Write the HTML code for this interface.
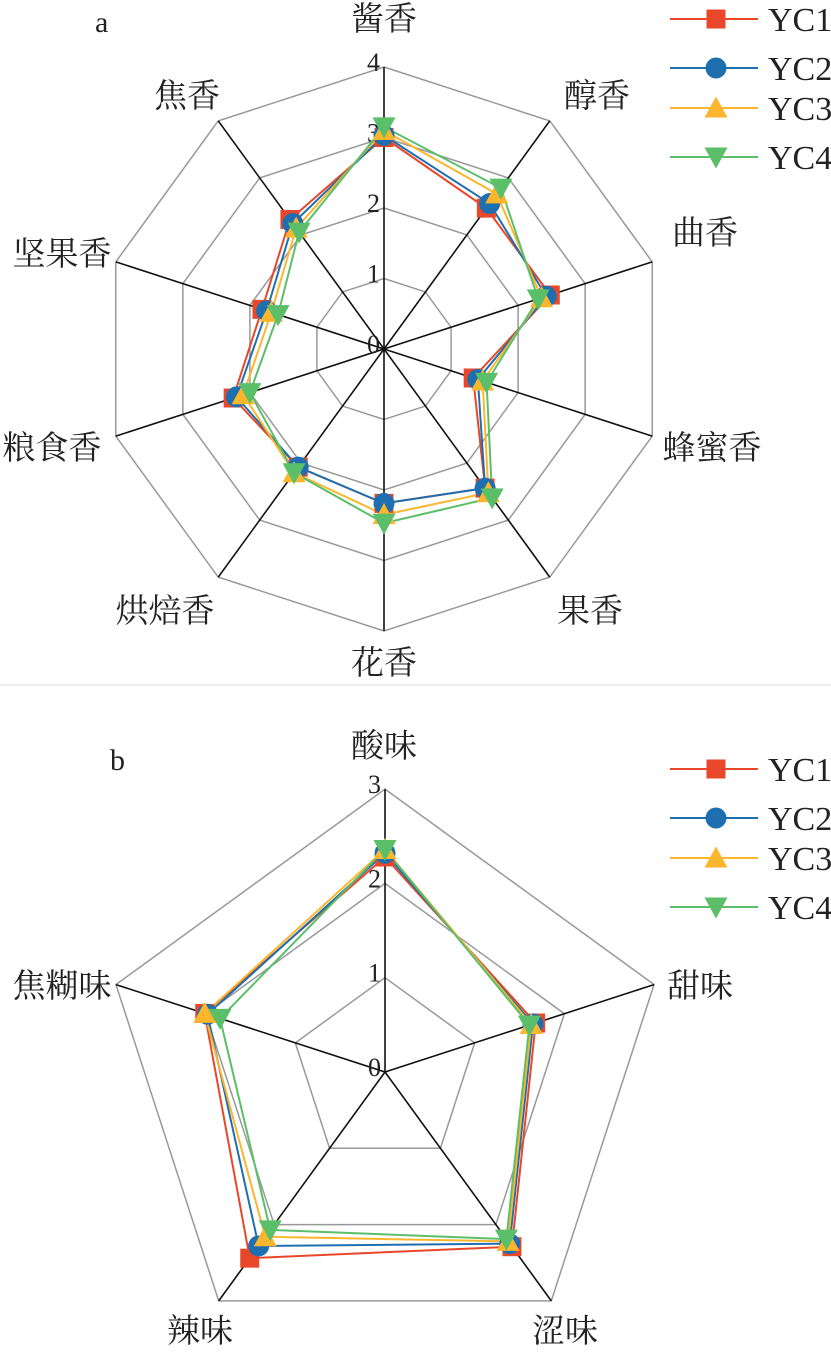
<!DOCTYPE html>
<html><head><meta charset="utf-8"><style>
html,body{margin:0;padding:0;background:#fff;}
svg{display:block;}
text{font-family:"Liberation Serif","Noto Serif CJK SC",serif;fill:#222;}
</style></head><body>
<svg id="s" width="831" height="1357" viewBox="0 0 831 1357" xmlns="http://www.w3.org/2000/svg">
<line x1="0" y1="685" x2="831" y2="685" stroke="#ddd" stroke-width="1"/>
<text x="95" y="32" font-size="30">a</text>
<text x="110" y="770" font-size="30">b</text>
</svg>
<script>
var s=document.getElementById('s'),NS='http://www.w3.org/2000/svg';
function el(t,a,txt){var e=document.createElementNS(NS,t);for(var k in a)e.setAttribute(k,a[k]);if(txt!=null)e.textContent=txt;s.appendChild(e);return e;}
var cols=['#E8472A','#1F6FB0','#FBB62D','#5BBF6A'];
function marker(i,x,y,sz){
 var h=sz/2;
 if(i==0)el('rect',{x:x-h,y:y-h,width:sz,height:sz,fill:cols[0]});
 else if(i==1)el('circle',{cx:x,cy:y,r:h+1,fill:cols[1]});
 else if(i==2)el('polygon',{points:(x)+','+(y-h-2)+' '+(x+h+2)+','+(y+h)+' '+(x-h-2)+','+(y+h),fill:cols[2]});
 else el('polygon',{points:(x-h-2)+','+(y-h)+' '+(x+h+2)+','+(y-h)+' '+x+','+(y+h+2),fill:cols[3]});
}
function radar(cx,cy,unit,max,n,data,labels,lpos,ticks){
 function pt(k,v){var a=2*Math.PI*k/n;return [cx+Math.sin(a)*v*unit,cy-Math.cos(a)*v*unit];}
 for(var g=1;g<=max;g++){var p=[];for(var k=0;k<n;k++)p.push(pt(k,g).join(','));
  el('polygon',{points:p.join(' '),fill:'none',stroke:'#999','stroke-width':1.5});}
 for(var k=0;k<n;k++){var q=pt(k,max);el('line',{x1:cx,y1:cy,x2:q[0],y2:q[1],stroke:'#111','stroke-width':1.6});}
 for(var g=0;g<=max;g++){el('text',{x:cx-4,y:cy-g*unit+4,'font-size':26,'text-anchor':'end'},String(g));}
 for(var i=0;i<4;i++){var p=[];for(var k=0;k<n;k++)p.push(pt(k,data[i][k]).join(','));
  el('polygon',{points:p.join(' '),fill:'none',stroke:cols[i],'stroke-width':2});}
 for(var i=0;i<4;i++)for(var k=0;k<n;k++){var q=pt(k,data[i][k]);marker(i,q[0],q[1],19);}
 for(var k=0;k<n;k++)el('text',{x:lpos[k][0],y:lpos[k][1],'font-size':33,'text-anchor':'middle'},labels[k]);
}
radar(384,349,70.5,4,10,[
 [3.0,2.47,2.48,1.33,2.44,2.19,2.07,2.25,1.82,2.27],
 [3.03,2.55,2.42,1.40,2.44,2.19,2.07,2.2,1.75,2.2],
 [3.1,2.72,2.35,1.47,2.52,2.35,2.17,2.1,1.68,2.12],
 [3.15,2.82,2.30,1.53,2.61,2.47,2.17,2.0,1.58,2.05]],
 ['酱香','醇香','曲香','蜂蜜香','果香','花香','烘焙香','粮食香','坚果香','焦香'],
 [[384,30],[597,107],[705,244],[712,459],[590,622],[384,674],[165,622],[52,459],[62,265],[187,107]]);
radar(385,1072,94.3,3,5,[
 [2.28,1.68,2.29,2.44,2.01],
 [2.32,1.65,2.25,2.28,1.98],
 [2.36,1.63,2.22,2.16,2.01],
 [2.36,1.61,2.19,2.07,1.84]],
 ['酸味','甜味','涩味','辣味','焦糊味'],
 [[384,757],[700,997],[565,1342],[200,1342],[62,997]]);
function legend(y0){var ys=[19,68,108,157];
 for(var i=0;i<4;i++){var y=y0+ys[i];
  el('line',{x1:670,y1:y,x2:758,y2:y,stroke:cols[i],'stroke-width':2});
  marker(i,716,y,19);
  el('text',{x:768,y:y+12,'font-size':34},'YC'+(i+1));}}
legend(0);legend(750);
</script>
</body></html>
